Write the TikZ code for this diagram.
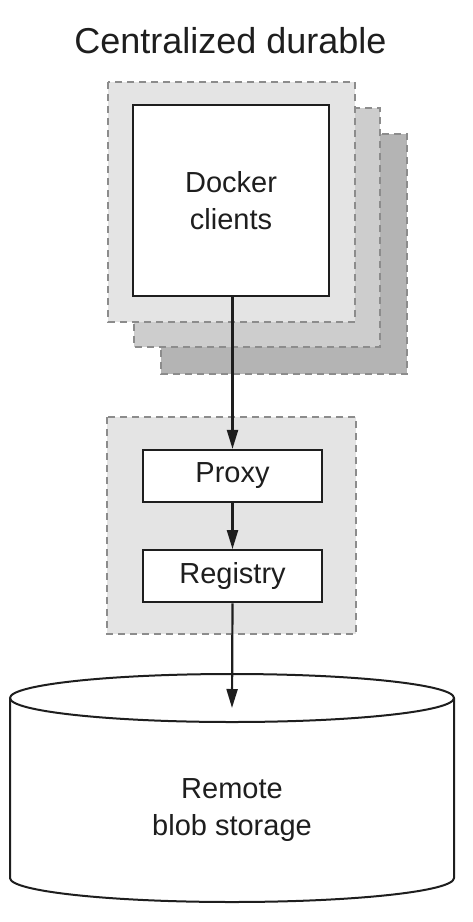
\documentclass[tikz,border=0pt]{standalone}
\usepackage{fontspec}
\setmainfont{Liberation Sans}
\usetikzlibrary{arrows.meta}
\usetikzlibrary{positioning}
\definecolor{inkgray}{HTML}{1E1E1E}
\definecolor{dashgray}{HTML}{8C8C8C}
\definecolor{layerone}{HTML}{E4E4E4}
\definecolor{layertwo}{HTML}{CDCDCD}
\definecolor{layerthree}{HTML}{B4B4B4}

\tikzset{
  label font/.style={font=\fontsize{29}{36.5}\selectfont, text=inkgray},
  layer/.style={draw=dashgray, line width=1.8pt, dash pattern=on 7pt off 5pt},
  solidbox/.style={draw=inkgray, fill=white, line width=2.2pt, label font,
    inner sep=0pt, align=center},
  flow/.style={draw=inkgray, line width=2.2pt, -{Triangle[length=19pt,width=11pt]}}
}

\begin{document}
\begin{tikzpicture}[x=1pt, y=-1pt]
  \useasboundingbox (0,0) rectangle (472,922);

  % Title
  \node[anchor=base, font=\fontsize{36}{42}\selectfont, text=inkgray] (title) at (230.5,53)
        {Centralized durable};

  % Stacked client layers
  \filldraw[layer, fill=layerthree] (161,134) rectangle (407,374);
  \filldraw[layer, fill=layertwo]   (134,108) rectangle (380,347);
  \filldraw[layer, fill=layerone]   (108,82)  rectangle (355,322);
  \node[solidbox, minimum width=196pt, minimum height=191pt] (clients) at (231,200.5)
        {Docker\\clients};

  % Registry group
  \filldraw[layer, fill=layerone] (107,417) rectangle (356,634);
  \node[solidbox, minimum width=179pt, minimum height=52pt] (proxy) at (232.5,476) {Proxy};
  \node[solidbox, minimum width=179pt, minimum height=52pt, below=46pt of proxy] (registry)
        {Registry};

  % Remote storage cylinder
  \draw[draw=inkgray, line width=2pt] (10,698) -- (10,878)
        arc[start angle=180, end angle=0, x radius=222, y radius=24] -- (454,698);
  \draw[draw=inkgray, line width=2pt] (232,698) ellipse[x radius=222, y radius=24];
  \coordinate (storagetop) at (232,708);
  \node[label font, align=center] (storage) at (232,810) {Remote\\blob storage};

  % Edges
  \draw[flow] (clients.south -| proxy.north) -- (proxy.north);
  \draw[flow] (proxy) -- (registry);
  \draw[flow] (registry.south) -- (storagetop);
\end{tikzpicture}
\end{document}
